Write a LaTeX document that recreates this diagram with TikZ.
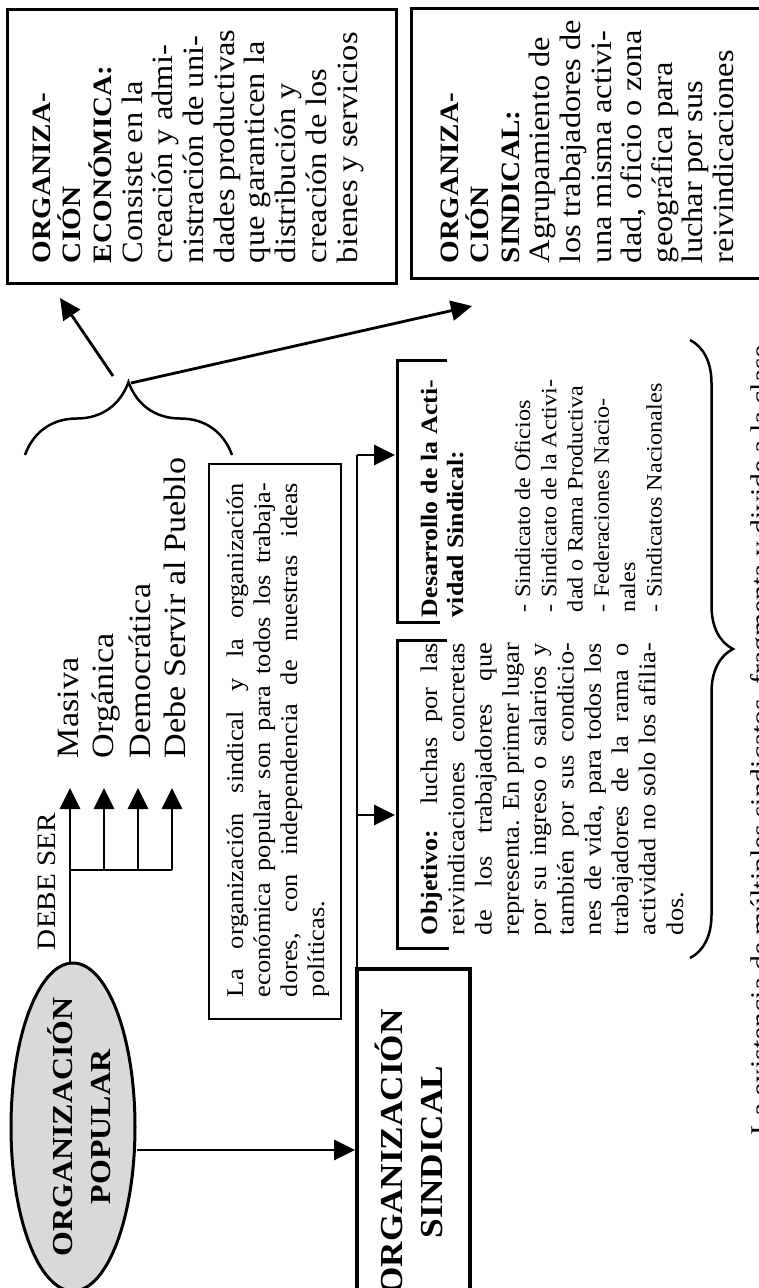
\documentclass[tikz,border=0pt]{standalone}
\usepackage{fontspec}
\setmainfont{Liberation Serif}[FakeStretch=1.1]
\usetikzlibrary{arrows.meta,decorations.pathreplacing,shapes.geometric,calc}
\newcommand{\fsz}[1]{\fontsize{#1}{#1}\selectfont}
\begin{document}
\begin{tikzpicture}[x=1pt,y=-1pt,line join=miter,
  rt/.style={rotate=90, anchor=base west, inner sep=0pt, outer sep=0pt},
  rtc/.style={rotate=90, anchor=base, inner sep=0pt, outer sep=0pt},
  arr/.style={line width=2.8pt, -{Triangle[length=21pt,width=20pt]}},
  conn/.style={line width=2.8pt},
  frame/.style={draw, line width=3pt, inner sep=0pt, anchor=north west},
  brk/.style={line width=3pt},
  bracetop/.style={line width=2.5pt, decorate, decoration={brace, amplitude=73pt}},
  braceright/.style={line width=2.5pt, decorate, decoration={brace, amplitude=43pt}}]
\useasboundingbox (0,0) rectangle (759,1288);
\fill[white] (0,0) rectangle (759,1288);
\clip (0,0) rectangle (759,1288);

% --- ellipse ---
\node[ellipse, draw, line width=3pt, fill=black!15, minimum width=124pt, minimum height=328pt, inner sep=0pt] (pop) at (73,1127) {};
\node[rtc, font=\bfseries\fsz{29}] (pop1) at (72,1127) {ORGANIZACIÓN};
\node[rtc, font=\bfseries\fsz{29}] (pop2) at (110,1127) {POPULAR};

% --- DEBE SER ---
\node[rt, font=\fsz{26.5}] (debe) at (55,950) {DEBE SER};
\node[rt, font=\fsz{31}] (l1) at (78,758) {Masiva};
\node[rt, font=\fsz{31}] (l2) at (113,758) {Orgánica};
\node[rt, font=\fsz{31}] (l3) at (150,758) {Democrática};
\node[rt, font=\fsz{31}] (l4) at (185,758) {Debe Servir al Pueblo};
\coordinate (t1) at (70,788);
\coordinate (t2) at (104,788);
\coordinate (t3) at (138,788);
\coordinate (t4) at (172,788);
\coordinate (h2) at (104,870);
\coordinate (h3) at (138,870);
\coordinate (h4) at (172,870);
\draw[arr] (t1 |- pop.north) -- (t1);
\draw[conn] (t1 |- h4) -- (h4);
\draw[arr] (h2) -- (t2);
\draw[arr] (h3) -- (t3);
\draw[arr] (h4) -- (t4);

% --- top brace and diagonal arrows ---
\draw[bracetop] (25,455) -- (232,455);
\coordinate (b1) at (113,376);
\coordinate (b2) at (131,383);
\coordinate (ea) at (60,298);
\coordinate (sa) at (472,306);
\draw[arr] (b1) -- (ea);
\draw[arr] (b2) -- (sa);

% --- boxes ---
\node[frame, minimum width=389pt, minimum height=274pt] (econ) at (6,8) {};
\node[frame, minimum width=380pt, minimum height=270pt] (sdef) at (410,7) {};
\node[frame, line width=2.2pt, minimum width=132pt, minimum height=555pt] (nota) at (208,463) {};
\node[frame, line width=4pt, minimum width=113pt, minimum height=380pt] (sind) at (355,967) {};

% econ text
\foreach \t [count=\i from 0] in {{{\bfseries\fsz{26.5}ORGANIZA-}},{{\bfseries\fsz{26.5}CIÓN}},{{\bfseries\fsz{26.5}ECONÓMICA:}},
  Consiste en la, creación y admi-, nistración de uni-, dades productivas, que garanticen la,
  distribución y, creación de los, bienes y servicios}
  \node[rt, font=\fsz{29.5}] (e\i) at ({50+30.7*\i},263) {\t};

% sindical definition text
\foreach \t [count=\i from 0] in {{{\bfseries\fsz{26.5}ORGANIZA-}},{{\bfseries\fsz{26.5}CIÓN}},{{\bfseries\fsz{26.5}SINDICAL:}},
  Agrupamiento de, los trabajadores de, una misma activi-, {dad, oficio o zona}, geográfica para,
  luchar por sus, reivindicaciones}
  \node[rt, font=\fsz{29.5}] (s\i) at ({458+30.6*\i},263) {\t};

% nota text
\node[rt, font=\fsz{24}] (n1) at (243,997) {\makebox[514pt][s]{La organización sindical y la organización}};
\node[rt, font=\fsz{24}] (n2) at (270,997) {\makebox[514pt][s]{económica popular son para todos los trabaja-}};
\node[rt, font=\fsz{24}] (n3) at (297,997) {\makebox[514pt][s]{dores, con independencia de nuestras ideas}};
\node[rt, font=\fsz{24}] (n4) at (324,997) {políticas.};

% sindical main box text
\node[rtc, font=\bfseries\fsz{32}] (si1) at (402,1152) {ORGANIZACIÓN};
\node[rtc, font=\bfseries\fsz{32}] (si2) at (442,1152) {SINDICAL};

\draw[arr] ([yshift=-23pt]pop.east) -- ([yshift=-23pt]pop.east -| sind.west);

% branches from sindical
\coordinate (j1) at (357,455);
\coordinate (j2) at (357,815);
\coordinate (dtip) at (395,455);
\coordinate (otip) at (395,815);
\draw[conn] (j1 |- sind.north) -- (j1);
\draw[arr] (j1) -- (dtip);
\draw[arr] (j2) -- (otip);

% brackets
\draw[brk] (447,360) -- (397,360) -- (397,622) -- (440,622);
\draw[brk] (447,640) -- (397,640) -- (397,948) -- (449,948);

% objetivo text
\foreach \t [count=\i from 0] in {
  {{\bfseries\fsz{23.5}Objetivo:} luchas por las},
  {reivindicaciones concretas},
  {de los trabajadores que},
  {representa. En primer lugar},
  {por su ingreso o salarios y},
  {también por sus condicio-},
  {nes de vida, para todos los},
  {trabajadores de la rama o},
  {actividad no solo los afilia-}}
  \node[rt, font=\fsz{24}] (o\i) at ({437+27.3*\i},935) {\makebox[292pt][s]{\t}};
\node[rt, font=\fsz{24}] (o9) at (683,935) {dos.};

% desarrollo text
\node[rt, font=\bfseries\fsz{23.5}] (d1) at (437,617) {\makebox[237pt][s]{Desarrollo de la Acti-}};
\node[rt, font=\bfseries\fsz{23.5}] (d2) at (463,617) {vidad Sindical:};
\foreach \t [count=\i from 0] in {- Sindicato de Oficios, - Sindicato de la Activi-, dad o Rama Productiva,
  - Federaciones Nacio-, nales, - Sindicatos Nacionales}
  \node[rt, font=\fsz{22}] (dl\i) at ({530+26.3*\i},612) {\t};

% right brace and bottom text
\draw[braceright] (690,340) -- (690,958);
\node[rt, font=\fsz{27}] (exist) at (769,1135) {\makebox[790pt][s]{La existencia de múltiples sindicatos, fragmenta y divide a la clase}};
\end{tikzpicture}
\end{document}
